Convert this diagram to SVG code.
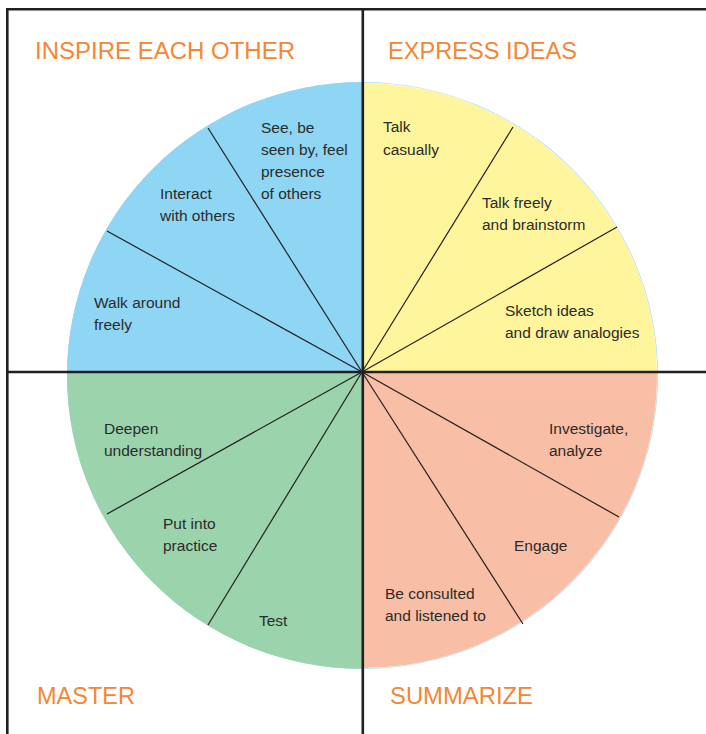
<svg xmlns="http://www.w3.org/2000/svg" width="706" height="734" viewBox="0 0 706 734">
  <style>
    .title { font-family: "Liberation Sans", Arial, sans-serif; font-size: 23.5px; fill: #f58634; }
    .label { font-family: "Liberation Sans", Arial, sans-serif; font-size: 15.5px; fill: #2b2b2b; }
    .frame { stroke: #231f20; stroke-width: 2.6; fill: none; }
    .spoke { stroke: #231f20; stroke-width: 1.2; fill: none; }
  </style>
  <defs>
    <clipPath id="qTL"><rect x="0" y="0" width="362.5" height="372"/></clipPath>
    <clipPath id="qTR"><rect x="362.5" y="0" width="344" height="372"/></clipPath>
    <clipPath id="qBL"><rect x="0" y="372" width="362.5" height="362"/></clipPath>
    <clipPath id="qBR"><rect x="362.5" y="372" width="344" height="362"/></clipPath>
    <ellipse id="disc" cx="362.5" cy="375.5" rx="295.5" ry="293.5"/>
  </defs>

  <rect width="706" height="734" fill="#ffffff"/>

  <!-- wheel quadrants -->
  <g id="wheel">
    <use href="#disc" fill="#a6dcf2"/>
    <ellipse cx="362.5" cy="375.5" rx="294.8" ry="292.8" fill="#ffffff"/>
    <use href="#disc" fill="#8fd6f5" clip-path="url(#qTL)" transform="translate(0,0)"/>
    <g clip-path="url(#qTR)"><ellipse cx="362.5" cy="375.5" rx="294.5" ry="292.5" fill="#fff59c"/></g>
    <g clip-path="url(#qBL)"><ellipse cx="362.5" cy="375.5" rx="295.5" ry="293.5" fill="#9bd3ad"/></g>
    <g clip-path="url(#qBR)"><ellipse cx="362.5" cy="375.5" rx="294.5" ry="292.5" fill="#f9bfa6"/></g>
  </g>

  <!-- spokes and frame -->
  <g id="connectors">
    <line class="spoke" x1="362" y1="372" x2="208" y2="128"/>
    <line class="spoke" x1="362" y1="372" x2="107" y2="231"/>
    <line class="spoke" x1="362" y1="372" x2="513" y2="127"/>
    <line class="spoke" x1="362" y1="372" x2="617" y2="227"/>
    <line class="spoke" x1="362" y1="372" x2="619" y2="517"/>
    <line class="spoke" x1="362" y1="372" x2="523" y2="624"/>
    <line class="spoke" x1="362" y1="372" x2="107" y2="514"/>
    <line class="spoke" x1="362" y1="372" x2="208" y2="625"/>
    <path class="frame" d="M7.3 734 V9.3 H706"/>
    <line class="frame" x1="362.8" y1="9" x2="362.8" y2="734"/>
    <line class="frame" x1="7" y1="372" x2="706" y2="372"/>
  </g>

  <!-- quadrant titles -->
  <g id="inspire"><text class="title" x="35" y="59" textLength="260" lengthAdjust="spacingAndGlyphs">INSPIRE EACH OTHER</text></g>
  <g id="express"><text class="title" x="388" y="59" textLength="189" lengthAdjust="spacingAndGlyphs">EXPRESS IDEAS</text></g>
  <g id="master"><text class="title" x="37" y="704" textLength="98" lengthAdjust="spacingAndGlyphs">MASTER</text></g>
  <g id="summarize"><text class="title" x="390" y="704" textLength="143" lengthAdjust="spacingAndGlyphs">SUMMARIZE</text></g>

  <!-- inspire segments -->
  <g id="see-be-seen"><text class="label" x="261" y="133">See, be</text><text class="label" x="261" y="155">seen by, feel</text><text class="label" x="261" y="177">presence</text><text class="label" x="261" y="199">of others</text></g>
  <g id="interact"><text class="label" x="160" y="199">Interact</text><text class="label" x="160" y="221">with others</text></g>
  <g id="walk-around"><text class="label" x="94" y="308">Walk around</text><text class="label" x="94" y="330">freely</text></g>

  <!-- express segments -->
  <g id="talk-casually"><text class="label" x="383" y="132">Talk</text><text class="label" x="383" y="155">casually</text></g>
  <g id="talk-freely"><text class="label" x="482" y="208">Talk freely</text><text class="label" x="482" y="230">and brainstorm</text></g>
  <g id="sketch-ideas"><text class="label" x="505" y="316">Sketch ideas</text><text class="label" x="505" y="338">and draw analogies</text></g>

  <!-- summarize segments -->
  <g id="investigate"><text class="label" x="549" y="434">Investigate,</text><text class="label" x="549" y="456">analyze</text></g>
  <g id="engage"><text class="label" x="514" y="551">Engage</text></g>
  <g id="be-consulted"><text class="label" x="385" y="599">Be consulted</text><text class="label" x="385" y="621">and listened to</text></g>

  <!-- master segments -->
  <g id="deepen"><text class="label" x="104" y="434">Deepen</text><text class="label" x="104" y="456">understanding</text></g>
  <g id="put-into-practice"><text class="label" x="163" y="529">Put into</text><text class="label" x="163" y="551">practice</text></g>
  <g id="test"><text class="label" x="259" y="626">Test</text></g>
</svg>
